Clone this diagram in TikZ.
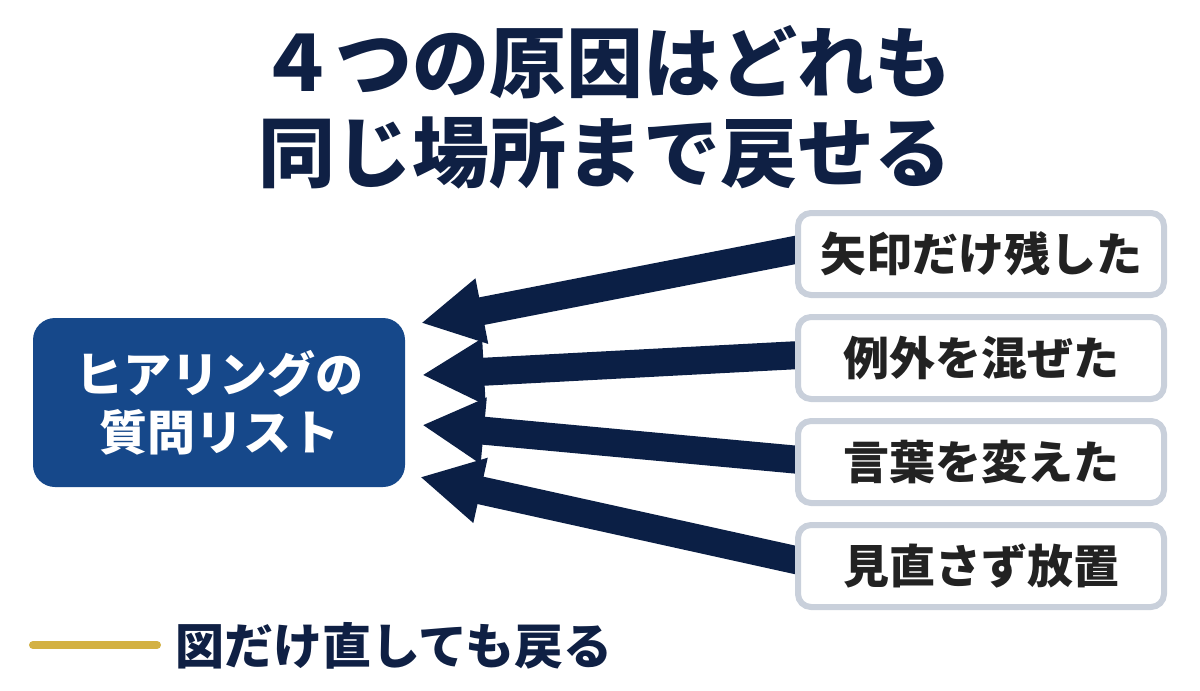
\documentclass[tikz,border=0pt]{standalone}
\usepackage{fontspec}
\setmainfont{Noto Sans CJK JP}[BoldFont={Noto Sans CJK JP Black}]
\usetikzlibrary{arrows.meta}

\definecolor{navy}{HTML}{0F2044}
\definecolor{arrownavy}{HTML}{0B1F45}
\definecolor{listblue}{HTML}{16488A}
\definecolor{boxgray}{HTML}{C9D0DB}
\definecolor{gold}{HTML}{D3B143}
\definecolor{ink}{HTML}{222222}

\tikzset{
  cause/.style = {draw=boxgray, line width=6pt, fill=white, rounded corners=13pt,
                  minimum width=366pt, minimum height=82pt, inner sep=0pt,
                  text=ink, font=\bfseries\fontsize{46}{52}\selectfont},
  bigarrow/.style = {draw=arrownavy, line width=28pt,
                     -{Triangle[length=62pt,width=62pt]}},
}

\begin{document}
\begin{tikzpicture}[x=1pt, y=-1pt]
  \useasboundingbox (0,0) rectangle (1200,691);

  \node (title) at (605,107) [align=center, text=navy,
      font=\bfseries\fontsize{77}{90}\selectfont] {４つの原因はどれも\\同じ場所まで戻せる};

  \node (list) at (219,402.5) [fill=listblue, rounded corners=22pt,
      minimum width=372pt, minimum height=169pt, inner sep=0pt, align=center,
      text=white, font=\bfseries\fontsize{48}{58}\selectfont] {ヒアリングの\\質問リスト};

  \coordinate (t1) at (421,323);
  \coordinate (t2) at (422,375);
  \coordinate (t3) at (422,425);
  \coordinate (t4) at (420,477);

  \coordinate (s1) at (800,249);
  \coordinate (s2) at (800,355);
  \coordinate (s3) at (800,460);
  \coordinate (s4) at (800,561);

  % arrows first, the boxes cover their ends
  \draw[bigarrow] (s1) -- (t1);
  \draw[bigarrow] (s2) -- (t2);
  \draw[bigarrow] (s3) -- (t3);
  \draw[bigarrow] (s4) -- (t4);

  \node[cause] (c1) at (981,254) {矢印だけ残した};
  \node[cause] (c2) at (981,358) {例外を混ぜた};
  \node[cause] (c3) at (981,462) {言葉を変えた};
  \node[cause] (c4) at (981,566) {見直さず放置};

  \draw[gold, line width=8pt, line cap=round] (33,645) -- (157,645);
  \node (note) at (175,646) [anchor=west, inner sep=0pt, text=navy,
      font=\bfseries\fontsize{49}{54}\selectfont] {図だけ直しても戻る};
\end{tikzpicture}
\end{document}
